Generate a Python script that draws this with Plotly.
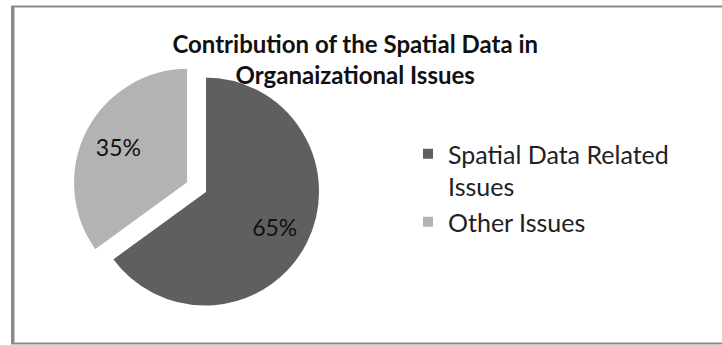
import plotly.graph_objects as go

labels = ["Spatial Data Related<br>Issues", "Other Issues"]
values = [65, 35]
colors = ["#5f5f5f", "#b3b3b3"]
pulls = [0, 0.165]

W, H = 722, 345
pie_domain = dict(x=[71 / W, 339 / W], y=[1 - 325.5 / H, 1 - 57.5 / H])

fig = go.Figure()
# slices + legend
fig.add_trace(go.Pie(
    labels=labels,
    values=values,
    sort=False,
    direction="clockwise",
    rotation=0,
    pull=pulls,
    marker=dict(colors=colors, line=dict(color="#ffffff", width=2)),
    textinfo="none",
    domain=pie_domain,
    hoverinfo="label+percent",
))
# percentage labels (same pie geometry, transparent ring so labels sit at ~2/3 radius)
fig.add_trace(go.Pie(
    labels=labels,
    values=values,
    sort=False,
    direction="clockwise",
    rotation=0,
    pull=pulls,
    hole=0.36,
    marker=dict(colors=["rgba(0,0,0,0)"] * len(values), line=dict(width=0)),
    textinfo="percent",
    texttemplate="%{percent:.0%}",
    textposition="inside",
    insidetextorientation="horizontal",
    textfont=dict(family="Lato", size=23, color="#111111"),
    domain=pie_domain,
    showlegend=False,
    hoverinfo="skip",
))

fig.update_layout(
    width=W,
    height=H,
    margin=dict(l=0, r=0, t=0, b=0),
    paper_bgcolor="#ffffff",
    plot_bgcolor="#ffffff",
    title=dict(
        text="<b>Contribution of the Spatial Data in<br>Organaizational Issues</b>",
        x=0.492,
        xanchor="center",
        y=1 - 53 / H,
        yanchor="top",
        font=dict(family="Lato", size=24, color="#111111"),
    ),
    legend=dict(
        x=408 / W,
        y=1 - 131 / H,
        xanchor="left",
        yanchor="top",
        valign="top",
        traceorder="grouped",
        tracegroupgap=10,
        font=dict(family="Lato", size=25, color="#222222"),
        bgcolor="rgba(0,0,0,0)",
        itemsizing="constant",
    ),
    showlegend=True,
    shapes=[
        dict(type="rect", xref="paper", yref="paper",
             x0=12 / W, x1=1.01, y0=1 - 343.5 / H, y1=1 - 6.5 / H,
             line=dict(color="#8a8a8a", width=2), fillcolor="rgba(0,0,0,0)", layer="below"),
        dict(type="line", xref="paper", yref="paper",
             x0=13 / W, x1=13 / W, y0=1 - 343.5 / H, y1=1 - 6.5 / H,
             line=dict(color="#8a8a8a", width=3), layer="below"),
    ],
)

fig.write_html(
    "out.html",
    config={"displayModeBar": False},
    post_script="document.body.style.margin='0';document.body.style.overflow='hidden';",
)
